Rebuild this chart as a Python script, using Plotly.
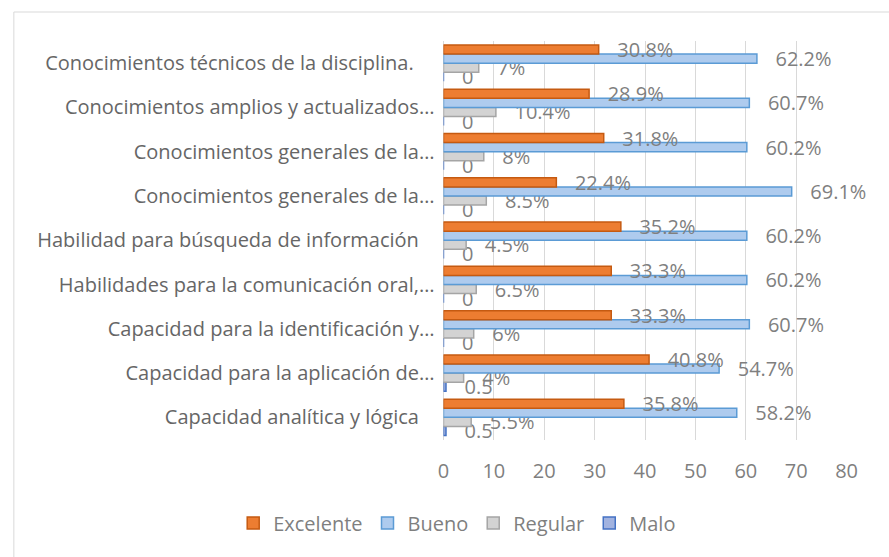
import plotly.graph_objects as go

# Categories listed bottom-to-top (as drawn on the axis)
categories = [
    "Capacidad analítica y lógica\u00a0\u00a0\u00a0",
    "Capacidad para la aplicación de…",
    "Capacidad para la identificación y…",
    "Habilidades para la comunicación oral,…",
    "Habilidad para búsqueda de información\u00a0\u00a0\u00a0",
    "Conocimientos generales de la…",
    "Conocimientos generales de la…",
    "Conocimientos amplios y actualizados…",
    "Conocimientos técnicos de la disciplina.\u00a0\u00a0\u00a0\u00a0",
]
excelente = [35.8, 40.8, 33.3, 33.3, 35.2, 22.4, 31.8, 28.9, 30.8]
bueno = [58.2, 54.7, 60.7, 60.2, 60.2, 69.1, 60.2, 60.7, 62.2]
regular = [5.5, 4, 6, 6.5, 4.5, 8.5, 8, 10.4, 7]
malo = [0.5, 0.5, 0, 0, 0, 0, 0, 0, 0]
x_ticks = [0, 10, 20, 30, 40, 50, 60, 70, 80]

pos = list(range(len(categories)))
PAD = "\u00a0\u00a0\u00a0"
FONT = "Open Sans"
FS = 20
GRAY = "#7F7F7F"


def fmt(v):
    return f"{v:g}"


series = [
    ("Malo", malo, "#A2B3E0", "#4472C4", [PAD + fmt(v) for v in malo]),
    ("Regular", regular, "#D3D3D3", "#A5A5A5", [PAD + fmt(v) + "%" for v in regular]),
    ("Bueno", bueno, "#AECBEE", "#5B9BD5", [PAD + fmt(v) + "%" for v in bueno]),
    ("Excelente", excelente, "#ED7D31", "#C55A11", [PAD + fmt(v) + "%" for v in excelente]),
]

fig = go.Figure()
for name, vals, fill, edge, txt in series:
    fig.add_trace(go.Bar(
        name=name, y=pos, x=vals, orientation="h",
        marker=dict(color=fill, line=dict(color=edge, width=1.5)),
        text=txt, textposition="outside", constraintext="none",
        textfont=dict(family=FONT, size=FS, color=GRAY),
        cliponaxis=False,
    ))

W, H = 889, 557
L, R, T, B = 446, 857, 41, 439.5

def fx(p):
    return p / W

def fy(p):
    return 1 - p / H

fig.update_layout(
    width=W, height=H,
    margin=dict(l=0, r=0, t=0, b=0, pad=0),
    paper_bgcolor="white", plot_bgcolor="white",
    barmode="group", bargap=0.18, bargroupgap=0,
    font=dict(family=FONT, size=FS, color=GRAY),
    xaxis=dict(domain=[fx(L), fx(R)], range=[0, 80], tickvals=x_ticks,
               showgrid=True, gridcolor="#D9D9D9", gridwidth=1,
               zeroline=True, zerolinecolor="#D9D9D9", zerolinewidth=1,
               tickfont=dict(family=FONT, size=FS, color=GRAY),
               ticks="", ticklabelstandoff=17, fixedrange=True),
    yaxis=dict(domain=[fy(B), fy(T)], range=[-0.5, len(categories) - 0.5],
               tickvals=pos, ticktext=categories, showgrid=False,
               zeroline=False,
               tickfont=dict(family=FONT, size=FS, color="#666666"),
               ticks="", ticklabelstandoff=8, fixedrange=True),
    legend=dict(orientation="h", x=fx(460), xanchor="center",
                y=fy(523), yanchor="middle", traceorder="reversed",
                font=dict(family=FONT, size=FS, color=GRAY),
                bgcolor="rgba(0,0,0,0)"),
    showlegend=True,
    shapes=[dict(type="rect", xref="paper", yref="paper",
                 x0=fx(8), x1=fx(905), y0=fy(575), y1=fy(12),
                 line=dict(color="#D9D9D9", width=1), layer="below")],
)

fig.write_html("out.html", config={"displayModeBar": False},
               post_script="document.body.style.margin='0px';")
